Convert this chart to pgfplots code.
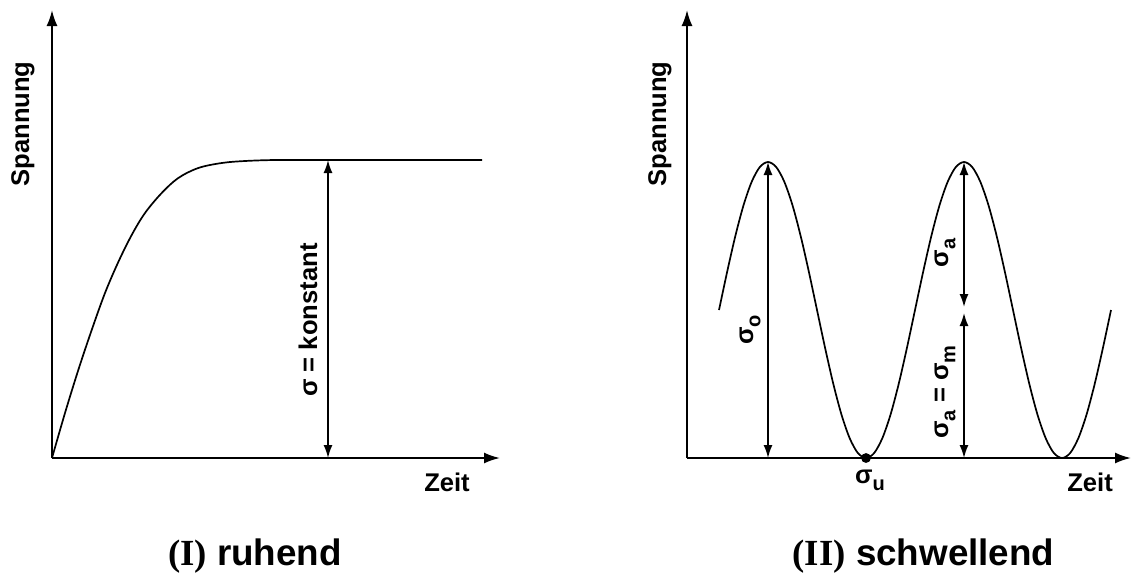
\documentclass[border=0pt]{standalone}
\usepackage{pgfplots}
\pgfplotsset{compat=1.18}
\usepackage{fontspec}
\setmainfont{Liberation Sans}
\newfontfamily\romanfont{Liberation Serif}
\usetikzlibrary{arrows.meta}

% Spannung-Zeit-Verlauf: ruhende und schwellende Belastung
\pgfplotstableread{
x y
0 0
13 45
26.3 88
39.7 128
53 165
66.3 196
79.7 223
93 245
109.7 265
126.3 280
146.3 290
169.7 295
193 297
223 298
260 298
300 298
430 298
}\ruhend

\pgfplotstableread{
x y
32 148
40.17 186.3
48.33 222
56.5 252.7
64.67 276.2
72.83 291.0
81 296
89.17 291.0
97.33 276.2
105.5 252.7
113.67 222
121.83 186.3
130 148
138.17 109.7
146.33 74
154.5 43.3
162.67 19.8
170.83 5.0
179 0
187.17 5.0
195.33 19.8
203.5 43.3
211.67 74
219.83 109.7
228 148
236.17 186.3
244.33 222
252.5 252.7
260.67 276.2
268.83 291.0
277 296
285.17 291.0
293.33 276.2
301.5 252.7
309.67 222
317.83 186.3
326 148
334.17 109.7
342.33 74
350.5 43.3
358.67 19.8
366.83 5.0
375 0
383.17 5.0
391.33 19.8
399.5 43.3
407.67 74
415.83 109.7
424 148
}\schwellend

\newcommand{\lbl}{\fontsize{12.8}{15}\selectfont\bfseries}
\newcommand{\sub}[1]{\raisebox{-0.28em}{\fontsize{10}{10}\selectfont #1}}

\pgfplotsset{
  diagram/.style={
    scale only axis,
    height=224pt,
    xmin=0, ymin=0, ymax=448,
    axis lines=left,
    axis line style={line width=1pt, -{Latex[length=8pt,width=5.5pt]}},
    xtick=\empty, ytick=\empty,
    clip=false,
    every axis plot/.append style={line width=0.85pt, black},
  },
  dim/.style={line width=0.8pt, {Latex[length=6.5pt,width=4.5pt]}-{Latex[length=6.5pt,width=4.5pt]}},
}

\begin{document}
\begin{tikzpicture}
\useasboundingbox (0,0) rectangle (566.5pt,287.5pt);

% (I) ruhend
\begin{axis}[diagram, at={(26pt,58.5pt)}, anchor=south west,
  width=224pt, xmax=448]
  \addplot[smooth, tension=0.55] table {\ruhend};
  \addplot[dim] coordinates {(276,0) (276,298)};
  \node[rotate=90] at (axis cs:256,138) {\lbl σ = konstant};
  \node[rotate=90] at (axis cs:-29,334) {\lbl Spannung};
  \node at (axis cs:395,-24) {\lbl Zeit};
\end{axis}

% (II) schwellend
\begin{axis}[diagram, at={(343.5pt,58.5pt)}, anchor=south west,
  width=222pt, xmax=444]
  \addplot[smooth] table {\schwellend};
  \addplot[dim] coordinates {(81,0) (81,296)};
  \addplot[dim] coordinates {(277,296) (277,151)};
  \addplot[dim] coordinates {(277,145) (277,0)};
  \addplot[only marks, mark=*, mark size=2pt] coordinates {(179,0)};
  \node[rotate=90] at (axis cs:63,128) {\lbl σ\sub{o}};
  \node[rotate=90] at (axis cs:258,205) {\lbl σ\sub{a}};
  \node[rotate=90] at (axis cs:258,66) {\lbl σ\sub{a} = σ\sub{m}};
  \node at (axis cs:183,-22) {\lbl σ\sub{u}};
  \node[rotate=90] at (axis cs:-27,334) {\lbl Spannung};
  \node at (axis cs:403,-24) {\lbl Zeit};
\end{axis}

% Bildunterschriften
\node at (127.5pt,9.5pt) {\fontsize{18.4}{20}\selectfont{\romanfont\bfseries (I)} \bfseries ruhend};
\node at (461.75pt,9.5pt) {\fontsize{18.4}{20}\selectfont{\romanfont\bfseries (II)} \bfseries schwellend};
\end{tikzpicture}
\end{document}
